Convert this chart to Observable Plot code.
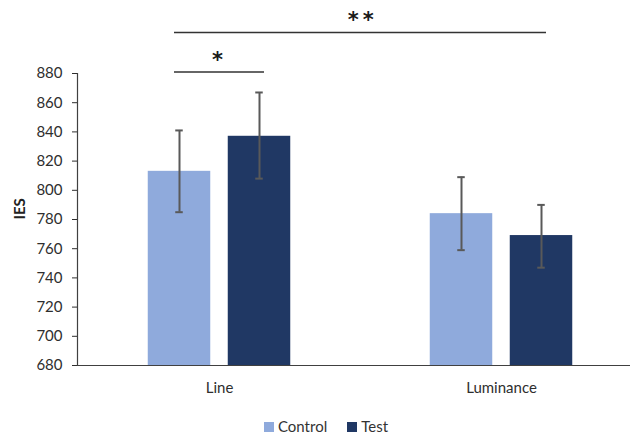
<!DOCTYPE html>
<html><head><meta charset="utf-8">
<script src="https://cdn.jsdelivr.net/npm/d3@7"></script>
<script src="https://cdn.jsdelivr.net/npm/@observablehq/plot@0.6"></script>
<style>
html,body{margin:0;padding:0;background:#fff;overflow:hidden;font-family:Lato,sans-serif}
#legend{display:flex;justify-content:center;align-items:center;width:608px;height:17px;padding-top:8px;padding-left:22px;font-size:15px;color:#333;line-height:17px}
.sw{display:inline-block;width:10px;height:10px;margin-right:4px}
.item{display:flex;align-items:center;margin:0 10px}
</style></head><body><div id="chart"></div><script>
const categories = ["Line", "Luminance"];
const groups = ["Control", "Test"];
const controlMeans = [813, 784];
const controlLow = [785, 759];
const controlHigh = [841, 809];
const testMeans = [837, 769];
const testLow = [808, 747];
const testHigh = [867, 790];
const yTicks = [680, 700, 720, 740, 760, 780, 800, 820, 840, 860, 880];
const bracketFrom = ["Line", "Line"];
const bracketTo = ["Line", "Luminance"];
const bracketLevel = [881, 908];
const bracketLabels = ["*", "**"];
const colors = ["#8faadc", "#203864"];

const means = [controlMeans, testMeans];
const lows = [controlLow, testLow];
const highs = [controlHigh, testHigh];

const W = 630, H = 410;
const xRange = [77.25, 642.25];
const bw = (xRange[1] - xRange[0]) / categories.length;
const half = 40, barW = 63, capW = 8;
const offs = [-half, half];
const errColor = "#595959";
const axisColor = "#404040";

const marks = [];
groups.forEach((g, gi) => {
  const rows = categories.map((c, i) => ({category: c, group: g, mean: means[gi][i], lo: lows[gi][i], hi: highs[gi][i]}));
  const cx = bw / 2 + offs[gi];
  marks.push(Plot.barY(rows, {x: "category", y: "mean", fill: colors[gi],
    insetLeft: cx - barW / 2, insetRight: bw - cx - barW / 2, clip: true}));
  marks.push(Plot.ruleX(rows, {x: "category", y1: "lo", y2: "hi", dx: offs[gi], stroke: errColor, strokeWidth: 2}));
  for (const key of ["lo", "hi"]) {
    marks.push(Plot.tickY(rows, {x: "category", y: key, stroke: errColor, strokeWidth: 2,
      insetLeft: cx - capW / 2, insetRight: bw - cx - capW / 2}));
  }
});

marks.push(Plot.ruleY([680], {stroke: axisColor, strokeWidth: 1.2}));
marks.push(Plot.frame({anchor: "left", stroke: axisColor, strokeWidth: 1.2}));
marks.push(Plot.text(["IES"], {frameAnchor: "left", dx: -57, rotate: -90, fontWeight: "bold", fontSize: 15, fill: "#222"}));

bracketLabels.forEach((lab, bi) => {
  const row = [{from: bracketFrom[bi], to: bracketTo[bi], y: bracketLevel[bi], label: lab}];
  marks.push(Plot.ruleY(row, {x1: "from", x2: "to", y: "y", insetLeft: 96, insetRight: 96, stroke: "#333", strokeWidth: 1.5}));
  const spanDx = bracketFrom[bi] === bracketTo[bi] ? 0 : bw / 2;
  marks.push(Plot.text(row, {x: "from", y: "y", text: "label", dx: spanDx + (lab.length > 1 ? 2 : 0), dy: -12, fontSize: 21, fontWeight: "bold",
    fontFamily: "DejaVu Sans", fill: "#1a1a1a"}));
});

const chart = Plot.plot({
  width: W,
  height: H,
  marginLeft: 77,
  marginRight: 0,
  marginTop: 73,
  marginBottom: 45,
  style: {fontFamily: "Lato, sans-serif", fontSize: "15px", color: "#2e2e2e", background: "#fff", overflow: "visible"},
  x: {domain: categories, range: xRange, padding: 0, tickSize: 0, tickPadding: 17, label: null},
  y: {domain: [680, 880], ticks: yTicks, tickSize: 5, tickPadding: 10, label: null},
  marks
});
chart.querySelectorAll("text").forEach(t => {
  if (/^\*+$/.test(t.textContent)) t.setAttribute("letter-spacing", "4");
});
document.getElementById("chart").appendChild(chart);

const legend = document.createElement("div");
legend.id = "legend";
groups.forEach((g, gi) => {
  const item = document.createElement("span");
  item.className = "item";
  const sw = document.createElement("span");
  sw.className = "sw";
  sw.style.background = colors[gi];
  item.appendChild(sw);
  item.appendChild(document.createTextNode(g));
  legend.appendChild(item);
});
document.body.appendChild(legend);
</script></body></html>
